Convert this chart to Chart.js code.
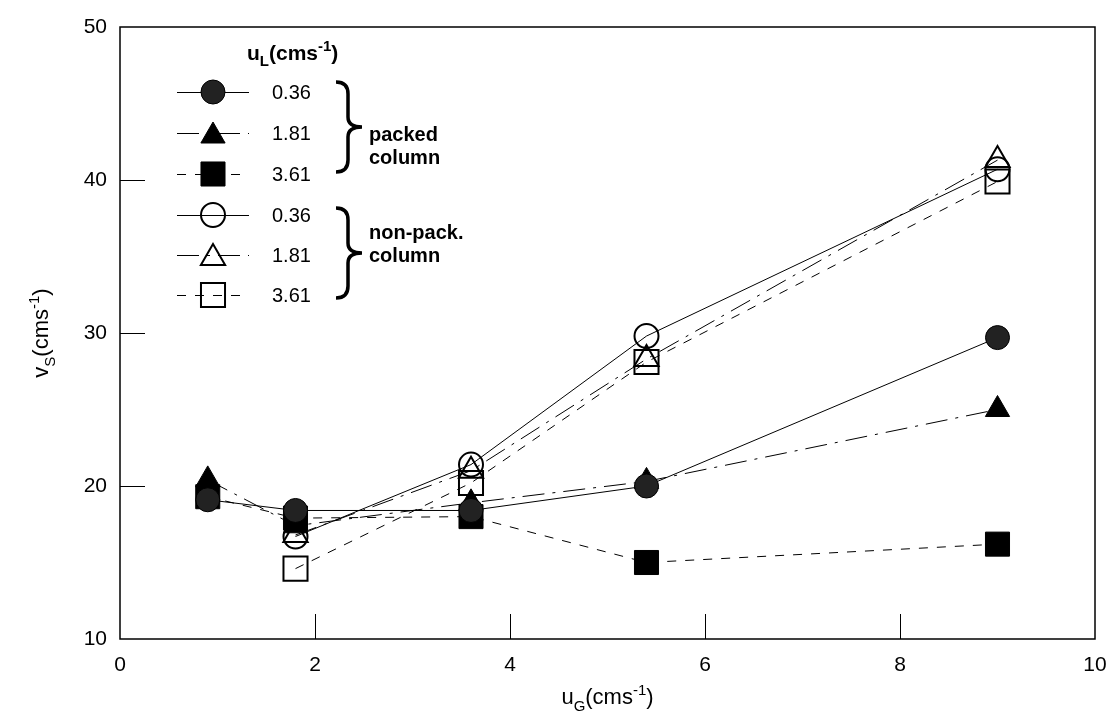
<!DOCTYPE html>
<html>
<head>
<meta charset="utf-8">
<script src="https://cdn.jsdelivr.net/npm/chart.js@4.4.1/dist/chart.umd.min.js"></script>
<style>
  body { margin: 0; background: #fff; }
  canvas { display: block; }
</style>
</head>
<body>
<canvas id="chart" width="1114" height="716"></canvas>
<script>
// gas velocity u_G (cm/s)
const xPacked = [0.9, 1.8, 3.6, 5.4, 9.0];
const xNonPacked = [1.8, 3.6, 5.4, 9.0];

// packed column, u_L = 0.36 / 1.81 / 3.61
const packed036 = [19.1, 18.4, 18.4, 20.0, 29.7];
const packed181 = [20.4, 17.4, 18.9, 20.3, 25.0];
const packed361 = [19.3, 17.9, 18.0, 15.0, 16.2];

// non-packed column
const nonPacked036 = [16.7, 21.4, 29.8, 40.7];
const nonPacked181 = [16.8, 21.0, 28.3, 41.3];
const nonPacked361 = [14.6, 20.2, 28.1, 39.9];

const xTicks = [0, 2, 4, 6, 8, 10];
const yTicks = [10, 20, 30, 40, 50];
const legendLabels = ['0.36', '1.81', '3.61', '0.36', '1.81', '3.61'];

const SOLID = [];
const DASHDOT = [22, 8, 3, 8];
const DASHED = [9, 9];

const toXY = (xs, ys) => xs.map((x, i) => ({ x: x, y: ys[i] }));

const styles = [
  { style: 'circle', radius: 12, fill: '#222', dash: SOLID, bw: 1 },
  { style: 'triangle', radius: 14, fill: '#000', dash: DASHDOT, bw: 1 },
  { style: 'rect', radius: 17, fill: '#000', dash: DASHED, bw: 1 },
  { style: 'circle', radius: 12, fill: 'rgba(0,0,0,0)', dash: SOLID, bw: 2 },
  { style: 'triangle', radius: 14, fill: 'rgba(0,0,0,0)', dash: DASHDOT, bw: 2 },
  { style: 'rect', radius: 17, fill: 'rgba(0,0,0,0)', dash: DASHED, bw: 2 }
];

const seriesData = [
  toXY(xPacked, packed036),
  toXY(xPacked, packed181),
  toXY(xPacked, packed361),
  toXY(xNonPacked, nonPacked036),
  toXY(xNonPacked, nonPacked181),
  toXY(xNonPacked, nonPacked361)
];

const datasets = seriesData.map((d, i) => ({
  label: legendLabels[i],
  data: d,
  borderColor: '#000',
  borderWidth: 1,
  borderDash: styles[i].dash,
  pointStyle: styles[i].style,
  pointRadius: styles[i].radius,
  pointBackgroundColor: styles[i].fill,
  pointBorderColor: '#000',
  pointBorderWidth: styles[i].bw,
  tension: 0,
  fill: false
}));

const FONT = '"Liberation Sans", Arial, sans-serif';

// text with sub/superscripts: parts = [[text, 'n'|'sub'|'sup'], ...]
function drawRich(ctx, parts, x, y, size, bold, align) {
  const w = bold ? 'bold ' : '';
  const small = Math.round(size * 0.7);
  let total = 0;
  parts.forEach(p => {
    ctx.font = w + (p[1] === 'n' ? size : small) + 'px ' + FONT;
    total += ctx.measureText(p[0]).width;
  });
  let cx = align === 'center' ? x - total / 2 : x;
  ctx.textAlign = 'left';
  ctx.textBaseline = 'alphabetic';
  parts.forEach(p => {
    ctx.font = w + (p[1] === 'n' ? size : small) + 'px ' + FONT;
    let dy = 0;
    if (p[1] === 'sub') dy = size * 0.3;
    if (p[1] === 'sup') dy = -size * 0.42;
    ctx.fillText(p[0], cx, y + dy);
    cx += ctx.measureText(p[0]).width;
  });
}

function drawMarker(ctx, s, x, y) {
  ctx.save();
  ctx.setLineDash([]);
  ctx.fillStyle = s.fill;
  ctx.strokeStyle = '#000';
  ctx.lineWidth = s.bw;
  Chart.helpers.drawPoint(ctx, { pointStyle: s.style, radius: s.radius, rotation: 0, borderWidth: s.bw }, x, y);
  ctx.restore();
}

function drawBrace(ctx, x0, y0, y1) {
  const xm = x0 + 12, tip = x0 + 26, ym = (y0 + y1) / 2;
  ctx.save();
  ctx.lineWidth = 3.5;
  ctx.strokeStyle = '#000';
  ctx.beginPath();
  ctx.moveTo(x0, y0);
  ctx.quadraticCurveTo(xm, y0, xm, y0 + 12);
  ctx.lineTo(xm, ym - 10);
  ctx.quadraticCurveTo(xm, ym, tip, ym);
  ctx.quadraticCurveTo(xm, ym, xm, ym + 10);
  ctx.lineTo(xm, y1 - 12);
  ctx.quadraticCurveTo(xm, y1, x0, y1);
  ctx.stroke();
  ctx.restore();
}

const decor = {
  id: 'decor',
  afterDraw(chart) {
    const ctx = chart.ctx;
    const a = chart.chartArea;
    const xs = chart.scales.x, ys = chart.scales.y;
    ctx.save();
    // frame
    ctx.strokeStyle = '#000';
    ctx.lineWidth = 1.5;
    ctx.setLineDash([]);
    ctx.strokeRect(a.left, a.top, a.right - a.left, a.bottom - a.top);
    // inward ticks
    ctx.lineWidth = 1;
    ctx.beginPath();
    xTicks.slice(1, -1).forEach(v => {
      const px = Math.round(xs.getPixelForValue(v)) + 0.5;
      ctx.moveTo(px, a.bottom);
      ctx.lineTo(px, a.bottom - 25);
    });
    yTicks.slice(1, -1).forEach(v => {
      const py = Math.round(ys.getPixelForValue(v)) + 0.5;
      ctx.moveTo(a.left, py);
      ctx.lineTo(a.left + 25, py);
    });
    ctx.stroke();

    // axis titles
    ctx.fillStyle = '#000';
    drawRich(ctx, [['u', 'n'], ['G', 'sub'], ['(cms', 'n'], ['-1', 'sup'], [')', 'n']],
      (a.left + a.right) / 2, 704, 22, false, 'center');
    ctx.save();
    ctx.translate(48, (a.top + a.bottom) / 2);
    ctx.rotate(-Math.PI / 2);
    drawRich(ctx, [['v', 'n'], ['S', 'sub'], ['(cms', 'n'], ['-1', 'sup'], [')', 'n']],
      0, 0, 22, false, 'center');
    ctx.restore();

    // legend
    drawRich(ctx, [['u', 'n'], ['L', 'sub'], ['(cms', 'n'], ['-1', 'sup'], [')', 'n']],
      247, 60, 21, true, 'left');
    const rowY = [92, 133, 174, 215, 255, 295];
    rowY.forEach((y, i) => {
      const s = styles[i];
      ctx.save();
      ctx.strokeStyle = '#000';
      ctx.lineWidth = 1;
      ctx.setLineDash(s.dash);
      ctx.beginPath();
      ctx.moveTo(177, y + 0.5);
      ctx.lineTo(249, y + 0.5);
      ctx.stroke();
      ctx.restore();
      drawMarker(ctx, s, 213, s.style === 'triangle' ? y + 3 : y);
      ctx.fillStyle = '#000';
      ctx.font = '20px ' + FONT;
      ctx.textAlign = 'left';
      ctx.textBaseline = 'middle';
      ctx.fillText(legendLabels[i], 272, y + 1);
    });
    drawBrace(ctx, 336, 82, 172);
    drawBrace(ctx, 336, 208, 298);
    ctx.font = 'bold 20px ' + FONT;
    ctx.textAlign = 'left';
    ctx.textBaseline = 'middle';
    ctx.fillText('packed', 369, 135);
    ctx.fillText('column', 369, 158);
    ctx.fillText('non-pack.', 369, 233);
    ctx.fillText('column', 369, 256);
    ctx.restore();
  }
};

new Chart(document.getElementById('chart').getContext('2d'), {
  type: 'line',
  data: { datasets: datasets },
  options: {
    responsive: false,
    animation: false,
    layout: { padding: { top: 27, right: 14, left: 0, bottom: 0 } },
    plugins: { legend: { display: false }, tooltip: { enabled: false } },
    scales: {
      x: {
        type: 'linear',
        min: 0,
        max: 10,
        afterBuildTicks: s => { s.ticks = xTicks.map(v => ({ value: v })); },
        afterFit: s => { s.height = 77; s.paddingLeft = 0; s.paddingRight = 0; },
        grid: { display: false, drawTicks: false },
        border: { display: false },
        ticks: { color: '#000', padding: 14, font: { size: 21, family: FONT }, maxRotation: 0 }
      },
      y: {
        type: 'linear',
        min: 10,
        max: 50,
        afterBuildTicks: s => { s.ticks = yTicks.map(v => ({ value: v })); },
        afterFit: s => { s.width = 120; s.paddingTop = 0; s.paddingBottom = 0; },
        grid: { display: false, drawTicks: false },
        border: { display: false },
        ticks: { color: '#000', padding: 13, font: { size: 21, family: FONT } }
      }
    }
  },
  plugins: [decor]
});
</script>
</body>
</html>
